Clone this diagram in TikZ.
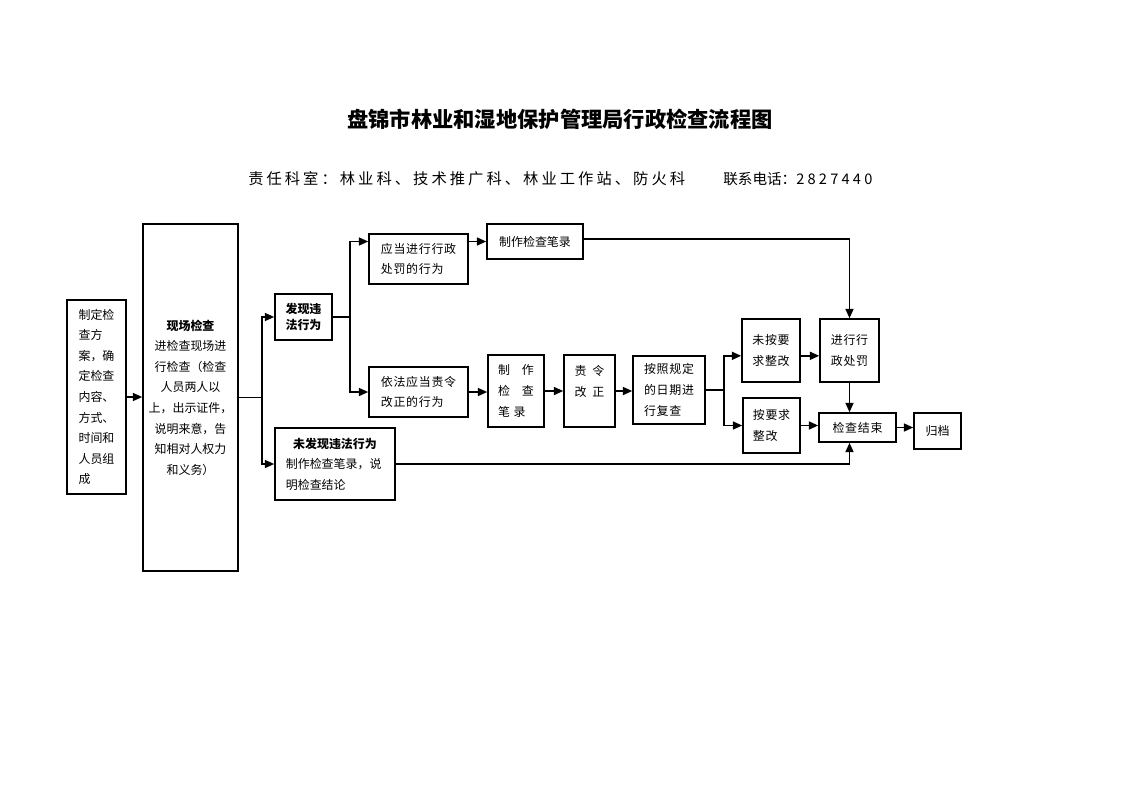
\documentclass[tikz,border=0pt]{standalone}
\usepackage{fontspec}
\setmainfont{Noto Sans CJK SC}
\newfontfamily\spc{Noto Sans CJK SC}[LetterSpace=6]
\newfontfamily\subfont{Noto Sans CJK SC}[LetterSpace=20]
\usetikzlibrary{arrows.meta}
\begin{document}
\begin{tikzpicture}[x=0.7528pt,y=-0.7528pt,
  box/.style={draw, line width=1.2pt, inner sep=0pt, font=\fontsize{9}{15.5}\selectfont},
  sbox/.style={box, font=\spc\fontsize{9}{15.5}\selectfont},
  sz/.style 2 args={minimum width=#1*0.7528pt, minimum height=#2*0.7528pt},
  arr/.style={line width=1.2pt, -{Triangle[length=7pt,width=6pt]}},
  ln/.style={line width=1.2pt}]
\useasboundingbox (0,0) rectangle (1122,793);
% title and subtitle
\node[font=\fontsize{16}{16}\selectfont\bfseries, inner sep=0pt] (title) at (560,119) {盘锦市林业和湿地保护管理局行政检查流程图};
\node[anchor=west, inner sep=0pt, font=\subfont\fontsize{11.5}{12}\selectfont] (sub1) at (248,179) {责任科室：林业科、技术推广科、林业工作站、防火科};
\node[anchor=west, inner sep=0pt, font=\fontsize{11}{12}\selectfont] (sub2) at (723,179) {联系电话：{\addfontfeature{LetterSpace=22}2827440}};
% boxes
\node[box, sz={59}{194}, align=left] (A) at (96.5,397) {制定检\\查方\\案，确\\定检查\\内容、\\方式、\\时间和\\人员组\\成};
\node[box, sz={95}{347}, align=center] (B) at (190.5,397.5) {{\bfseries 现场检查}\\进检查现场进\\行检查（检查\\人员两人以\\上，出示证件，\\说明来意，告\\知相对人权力\\和义务）};
\node[box, sz={57}{46}, align=left, font=\fontsize{9}{11.5}\selectfont\bfseries] (C) at (303.5,317) {发现违\\法行为};
\node[box, sz={120}{72}, align=left, text width=74pt] (D) at (335,464) {\makebox[74pt]{\bfseries 未发现违法行为}\\制作检查笔录，说\\明检查结论};
\node[sbox, sz={99}{50}, align=left] (E) at (418.5,259) {应当进行行政\\处罚的行为};
\node[box, sz={96}{35}] (F) at (535,241.5) {制作检查笔录};
\node[sbox, sz={99}{50}, align=left] (G) at (418.5,392) {依法应当责令\\改正的行为};
\node[box, sz={56}{72}, align=left] (H) at (516,391) {制\hspace{1em}作\\检\hspace{1em}查\\笔\hspace{0.3em}录};
\node[box, sz={51}{72}, align=left] (I) at (589.5,391) {责\hspace{0.5em}令\\改\hspace{0.5em}正\\\mbox{}};
\node[sbox, sz={72}{68}, align=left] (J) at (669,390) {按照规定\\的日期进\\行复查};
\node[sbox, sz={58}{63}, align=left] (K) at (771,350.5) {未按要\\求整改};
\node[sbox, sz={57}{55}, align=left] (L) at (771.5,425.5) {按要求\\整改};
\node[sbox, sz={59}{63}, align=left] (M) at (849.5,350.5) {进行行\\政处罚};
\node[sbox, sz={77}{29}] (N) at (857.5,427.5) {检查结束};
\node[box, sz={47}{36}] (O) at (937.5,431) {归档};
% connectors
\draw[arr] (A.east) -- (A.east -| B.west);
\draw[ln] (B.east) -- ++(23,0) coordinate (s1);
\draw[arr] (s1) |- (C.west);
\draw[arr] (s1) |- (D.west);
\draw[ln] (C.east) -- ++(17,0) coordinate (s2);
\draw[arr] (s2) |- (E.west |- F.west);
\draw[arr] (s2) |- (G.west);
\draw[arr] (E.east |- F.west) -- (F.west);
\draw[arr] (G.east) -- (G.east -| H.west);
\draw[arr] (H.east) -- (H.east -| I.west);
\draw[arr] (I.east) -- (I.east -| J.west);
\draw[ln] (J.east) -- ++(18,0) coordinate (s3);
\draw[arr] (s3) |- ([yshift=-4pt]K.west);
\draw[arr] (s3) |- (L.west);
\draw[arr] ([yshift=-4pt]K.east) -- ([yshift=-4pt]M.west);
\draw[arr] (L.east) -- (L.east -| N.west);
\draw[arr] ([yshift=2pt]F.east) -| (M.north);
\draw[arr] (M.south) -- (M.south |- N.north);
\draw[arr] (D.east) -| (M.south |- N.south);
\draw[arr] (N.east) -- (N.east -| O.west);
\end{tikzpicture}
\end{document}
